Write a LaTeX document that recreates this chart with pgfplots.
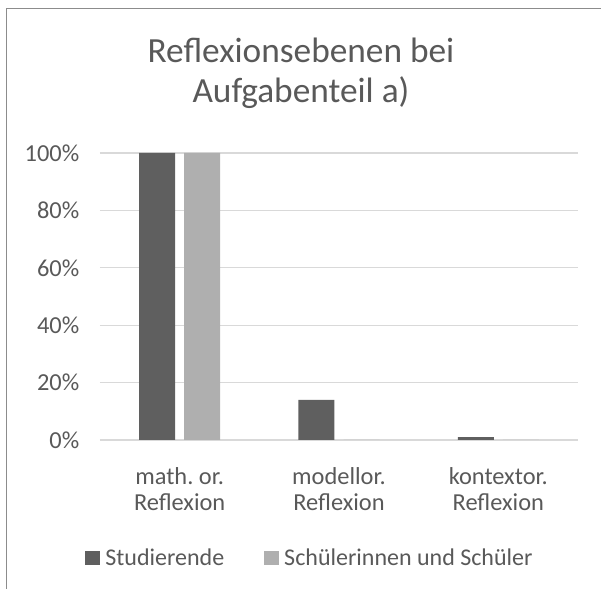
\documentclass[border=0pt]{standalone}
\usepackage{pgfplots}
\pgfplotsset{compat=1.18}
\usepackage{fontspec}
\setmainfont{Carlito}
\frenchspacing
\definecolor{txt}{HTML}{595959}
\definecolor{darkbar}{HTML}{5F5F5F}
\definecolor{lightbar}{HTML}{AFAFAF}
\definecolor{gridc}{HTML}{D9D9D9}
\definecolor{framec}{HTML}{8C8C8C}
\begin{document}
\begin{tikzpicture}[x=0.75pt,y=0.75pt]
\useasboundingbox (0,0) rectangle (601,589);
\draw[framec, line width=1.2pt] (6.5,0) -- (6.5,580.5) -- (601,580.5);
\node[anchor=base, txt, font=\fontsize{26.5}{30}\selectfont] at (301,526) {Reflexionsebenen bei};
\node[anchor=base, txt, font=\fontsize{26.5}{30}\selectfont] at (301,486) {Aufgabenteil a)};
\begin{axis}[
  at={(75pt,111.75pt)}, anchor=south west,
  scale only axis, width=358.5pt, height=215.25pt,
  ybar, bar width=27pt,
  xmin=-0.5, xmax=2.5, ymin=0, ymax=100,
  xtick={0,1,2}, xticklabels={{math. or.\\Reflexion},{modellor.\\Reflexion},{kontextor.\\Reflexion}},
  ytick={0,20,40,60,80,100},
  yticklabel={\pgfmathprintnumber{\tick}\%},
  /pgf/number format/assume math mode=true,
  major tick length=0pt,
  ymajorgrids, xmajorgrids=false,
  major grid style={gridc, line width=1pt},
  axis lines*=left,
  y axis line style={draw=none},
  x axis line style={gridc, line width=1pt, -},
  ticklabel style={txt, font=\fontsize{18.3}{20}\selectfont},
  xticklabel style={align=center, yshift=-17pt},
  yticklabel style={xshift=-12pt},
  legend columns=2,
  legend style={at={(0.44,-0.41)}, anchor=center, draw=none, fill=none,
    font=\fontsize{18}{21}\selectfont, text=txt,
    /tikz/every odd column/.append style={column sep=2pt},
    /tikz/every even column/.append style={column sep=28pt}},
  legend image code/.code={\fill[#1] (0pt,-5.25pt) rectangle (11pt,5.25pt);},
]
\addplot[fill=darkbar, draw=none, bar shift=-16.9pt] coordinates {(0,100) (1,14) (2,1)};
\addplot[fill=lightbar, draw=none, bar shift=16.9pt] coordinates {(0,100) (1,0) (2,0)};
\legend{Studierende, Schülerinnen und Schüler}
\end{axis}
\end{tikzpicture}
\end{document}
